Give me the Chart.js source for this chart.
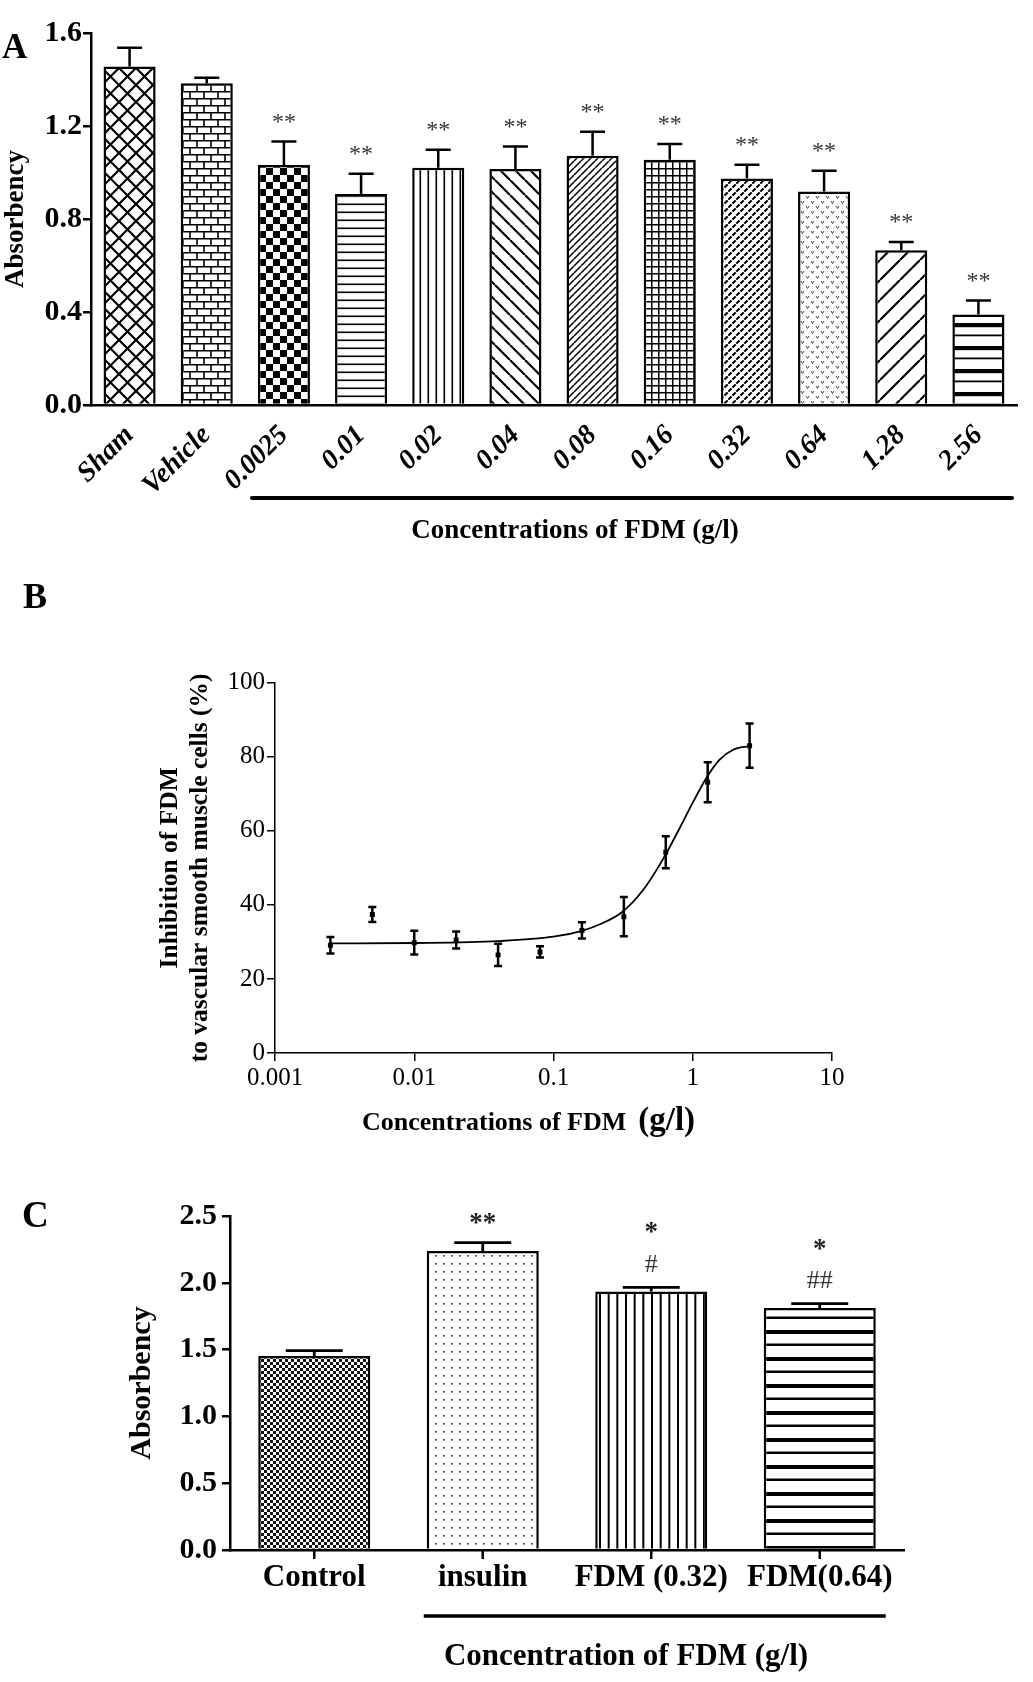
<!DOCTYPE html>
<html>
<head>
<meta charset="utf-8">
<script src="https://cdn.jsdelivr.net/npm/chart.js@4.4.1/dist/chart.umd.min.js"></script>
<style>
html, body { margin: 0; padding: 0; background: #fff; }
body { width: 1033px; height: 1682px; position: relative; overflow: hidden; }
.panel { position: absolute; left: 0; width: 1033px; }
#pa { top: 0; height: 560px; }
#pb { top: 560px; height: 580px; }
#pc { top: 1140px; height: 542px; }
</style>
</head>
<body>
<div class="panel" id="pa"><canvas id="ca"></canvas></div>
<div class="panel" id="pb"><canvas id="cb"></canvas></div>
<div class="panel" id="pc"><canvas id="cc"></canvas></div>
<script>
const SERIF = '"Liberation Serif", "Times New Roman", serif';

// A: absorbency per group
const aLabels = ['Sham', 'Vehicle', '0.0025', '0.01', '0.02', '0.04', '0.08', '0.16', '0.32', '0.64', '1.28', '2.56'];
const aMean = [1.456, 1.384, 1.032, 0.908, 1.020, 1.015, 1.072, 1.055, 0.974, 0.918, 0.666, 0.389];
const aErr = [0.081, 0.024, 0.101, 0.087, 0.078, 0.097, 0.103, 0.068, 0.059, 0.089, 0.035, 0.061];
const aMarks = ['', '', '**', '**', '**', '**', '**', '**', '**', '**', '**', '**'];

// B: inhibition vs dose (log x)
const bDose = [0.0025, 0.005, 0.01, 0.02, 0.04, 0.08, 0.16, 0.32, 0.64, 1.28, 2.56];
const bMean = [29.1, 37.4, 29.8, 30.5, 26.5, 27.3, 33.1, 36.8, 54.2, 73.1, 83.0];
const bErr = [2.2, 2.0, 3.2, 2.3, 3.0, 1.5, 2.2, 5.3, 4.3, 5.4, 6.0];
const bFitDose = [0.0025, 0.01, 0.04, 0.1, 0.16, 0.22, 0.31, 0.44, 0.61, 0.81, 1.0, 1.25, 1.56, 1.95, 2.56];
const bFitValue = [29.6, 29.7, 30.2, 31.4, 33.0, 34.9, 38.0, 44.0, 52.3, 60.9, 67.6, 74.2, 79.2, 81.9, 82.9];
const bTicks = [0.001, 0.01, 0.1, 1, 10];
const bTickLabels = ['0.001', '0.01', '0.1', '1', '10'];

// C: insulin-stimulated absorbency
const cLabels = ['Control', 'insulin', 'FDM (0.32)', 'FDM(0.64)'];
const cMean = [1.452, 2.238, 1.934, 1.811];
const cErr = [0.040, 0.062, 0.032, 0.033];
const cStars = ['', '**', '*', '*'];
const cHashes = ['', '', '#', '##'];

const font = (size, weight = 'normal', style = 'normal') => ({ family: SERIF, size, weight, style });

// hatch fills
const pat = (w, h, draw) => {
    const c = document.createElement('canvas');
    c.width = w; c.height = h;
    const g = c.getContext('2d');
    g.fillStyle = '#fff';
    g.fillRect(0, 0, w, h);
    g.fillStyle = g.strokeStyle = '#000';
    draw(g, w, h);
    return g.createPattern(c, 'repeat');
};
const diag = (g, s, dir) => {
    g.beginPath();
    for (const o of [-s, 0, s]) {
        if (dir > 0) { g.moveTo(o, s); g.lineTo(o + s, 0); }
        else { g.moveTo(o, 0); g.lineTo(o + s, s); }
    }
    g.stroke();
};
const vmark = (g, x, y) => { g.moveTo(x, y); g.lineTo(x + 1.5, y + 2.5); g.lineTo(x + 3, y); };

const aFills = [
    pat(17, 17, g => { g.lineWidth = 2.2; diag(g, 17, 1); diag(g, 17, -1); }),
    pat(14, 14, g => {
        g.lineWidth = 1.6; g.beginPath();
        g.moveTo(0, 0.8); g.lineTo(14, 0.8); g.moveTo(0, 7.8); g.lineTo(14, 7.8);
        g.moveTo(1, 0); g.lineTo(1, 7); g.moveTo(8, 7); g.lineTo(8, 14);
        g.stroke();
    }),
    pat(14, 14, g => { g.fillRect(0, 0, 7, 7); g.fillRect(7, 7, 7, 7); }),
    pat(8, 8, g => g.fillRect(0, 3.5, 8, 1.6)),
    pat(8, 8, g => g.fillRect(3.5, 0, 1.6, 8)),
    pat(15, 15, g => { g.lineWidth = 2.2; diag(g, 15, -1); }),
    pat(7, 7, g => { g.lineWidth = 1.5; diag(g, 7, 1); }),
    pat(7, 7, g => { g.fillRect(0, 0, 7, 1.5); g.fillRect(0, 0, 1.5, 7); }),
    pat(8, 8, g => { g.lineWidth = 2; diag(g, 8, 1); g.strokeStyle = '#fff'; g.lineWidth = 1.3; diag(g, 8, -1); }),
    pat(10, 10, g => { g.strokeStyle = '#444'; g.lineWidth = 1; g.beginPath(); vmark(g, 1, 1); vmark(g, 6, 6); g.stroke(); }),
    pat(20, 20, g => { g.lineWidth = 2.2; diag(g, 20, 1); }),
    pat(23, 23, g => { g.fillRect(0, 1, 23, 4.2); g.fillRect(0, 12.5, 23, 1.8); })
];
const cFills = [
    pat(6, 6, g => { g.fillStyle = '#111'; g.fillRect(0, 0, 3, 3); g.fillRect(3, 3, 3, 3); }),
    pat(8, 8, g => { g.fillStyle = '#333'; g.fillRect(3, 3, 1.6, 1.6); }),
    pat(26, 8, g => { [1, 9.67, 18.33].forEach(x => g.fillRect(x, 0, 2, 8)); }),
    pat(27, 27, g => { g.fillRect(0, 1, 27, 4); g.fillRect(0, 14.5, 27, 2.5); })
];

const errorBars = (mean, err, cap, width, both, dsIndex = 0) => ({
    id: 'errorBars',
    afterDatasetsDraw(chart) {
        const { ctx } = chart;
        const ys = chart.scales.y;
        ctx.save();
        ctx.strokeStyle = '#000';
        ctx.lineWidth = width;
        chart.getDatasetMeta(dsIndex).data.forEach((el, i) => {
            const x = el.x;
            const top = ys.getPixelForValue(mean[i] + err[i]);
            const bot = both ? ys.getPixelForValue(mean[i] - err[i]) : el.y;
            ctx.beginPath();
            ctx.moveTo(x, bot); ctx.lineTo(x, top);
            ctx.moveTo(x - cap / 2, top); ctx.lineTo(x + cap / 2, top);
            if (both) { ctx.moveTo(x - cap / 2, bot); ctx.lineTo(x + cap / 2, bot); }
            ctx.stroke();
        });
        ctx.restore();
    }
});

const text = (ctx, s, x, y, f, align = 'left', color = '#000', baseline = 'alphabetic') => {
    ctx.font = `${f.style} ${f.weight} ${f.size}px ${SERIF}`;
    ctx.fillStyle = color;
    ctx.textAlign = align;
    ctx.textBaseline = baseline;
    ctx.fillText(s, x, y);
};

const axisCommon = (lw) => ({
    grid: { drawOnChartArea: false, drawTicks: true, tickLength: 8, color: '#000', lineWidth: lw },
    border: { color: '#000', width: lw }
});

// ---- A ----
const aNotes = {
    id: 'aNotes',
    afterDraw(chart) {
        const { ctx, scales: { x, y }, chartArea } = chart;
        ctx.save();
        text(ctx, 'A', 2, 58, font(35, 'bold'));
        chart.getDatasetMeta(0).data.forEach((el, i) => {
            if (!aMarks[i]) return;
            text(ctx, aMarks[i], el.x, y.getPixelForValue(aMean[i] + aErr[i]) - 19, font(24), 'center', '#333', 'middle');
        });
        ctx.strokeStyle = '#000';
        ctx.lineWidth = 4;
        ctx.lineCap = 'round';
        ctx.beginPath();
        ctx.moveTo(x.getPixelForValue(2) - 32, 498);
        ctx.lineTo(chartArea.right - 5, 498);
        ctx.stroke();
        text(ctx, 'Concentrations of FDM (g/l)', 575, 538, font(27, 'bold'), 'center');
        ctx.restore();
    }
};

new Chart(document.getElementById('ca'), {
    type: 'bar',
    data: {
        labels: aLabels,
        datasets: [{
            data: aMean,
            backgroundColor: aFills,
            borderColor: '#000',
            borderWidth: 2.5,
            barPercentage: 0.675,
            categoryPercentage: 1
        }]
    },
    options: {
        responsive: true,
        maintainAspectRatio: false,
        animation: false,
        layout: { padding: { top: 33, right: 16, left: 0, bottom: 0 } },
        plugins: { legend: { display: false }, tooltip: { enabled: false } },
        scales: {
            x: {
                grid: { drawOnChartArea: false, drawTicks: false, color: '#000' },
                border: { color: '#000', width: 2.5 },
                ticks: { color: '#000', font: font(28, 'bold', 'italic'), minRotation: 45, maxRotation: 45, autoSkip: false, padding: 14 },
                afterFit: s => { s.height = 155; }
            },
            y: {
                min: 0, max: 1.6,
                ...axisCommon(2.5),
                ticks: { stepSize: 0.4, color: '#000', font: font(30, 'bold'), padding: 1, callback: v => v.toFixed(1) },
                title: { display: true, text: 'Absorbency', color: '#000', font: font(27, 'bold'), padding: { top: 0, bottom: 0 } },
                afterFit: s => { s.width = 91; }
            }
        }
    },
    plugins: [errorBars(aMean, aErr, 25, 2.5, false), aNotes]
});

// ---- B ----
const bNotes = {
    id: 'bNotes',
    afterDraw(chart) {
        const { ctx } = chart;
        ctx.save();
        text(ctx, 'B', 23, 48, font(36, 'bold'));
        const main = 'Concentrations of FDM';
        text(ctx, main, 362, 570, font(26, 'bold'));
        const w = ctx.measureText(main).width;
        text(ctx, '(g/l)', 362 + w + 12, 570, font(33, 'bold'));
        ctx.restore();
    }
};

new Chart(document.getElementById('cb'), {
    type: 'line',
    data: {
        datasets: [
            {
                data: bFitDose.map((x, i) => ({ x, y: bFitValue[i] })),
                borderColor: '#000',
                borderWidth: 1.8,
                pointRadius: 0,
                cubicInterpolationMode: 'monotone',
                fill: false
            },
            {
                data: bDose.map((x, i) => ({ x, y: bMean[i] })),
                showLine: false,
                pointStyle: 'rect',
                pointRadius: 3.5,
                backgroundColor: '#000',
                borderColor: '#000',
                borderWidth: 0
            }
        ]
    },
    options: {
        responsive: true,
        maintainAspectRatio: false,
        animation: false,
        layout: { padding: { top: 122.7, right: 201, left: 0, bottom: 0 } },
        plugins: { legend: { display: false }, tooltip: { enabled: false } },
        scales: {
            x: {
                type: 'logarithmic',
                min: 0.001, max: 10,
                ...axisCommon(1.5),
                afterBuildTicks: s => { s.ticks = bTicks.map(v => ({ value: v })); },
                ticks: { color: '#000', font: font(25), padding: 2, autoSkip: false, maxRotation: 0, callback: (v, i) => bTickLabels[i] },
                afterFit: s => { s.height = 87; }
            },
            y: {
                min: 0, max: 100,
                ...axisCommon(1.5),
                ticks: { stepSize: 20, color: '#000', font: font(25), padding: 2 },
                title: {
                    display: true,
                    text: ['Inhibition of FDM', 'to vascular smooth muscle cells (%)'],
                    color: '#000',
                    font: { ...font(25.5, 'bold'), lineHeight: 1.2 },
                    padding: { top: 155, bottom: 0 }
                },
                afterFit: s => { s.width = 275; }
            }
        }
    },
    plugins: [errorBars(bMean, bErr, 8, 2.5, true, 1), bNotes]
});

// ---- C ----
const cNotes = {
    id: 'cNotes',
    afterDraw(chart) {
        const { ctx, scales: { x, y } } = chart;
        ctx.save();
        text(ctx, 'C', 22, 87, font(37, 'bold'));
        ctx.strokeStyle = '#000';
        ctx.lineWidth = 2.5;
        ctx.beginPath();
        chart.getDatasetMeta(0).data.forEach((el, i) => {
            // tick mark under each category
            ctx.moveTo(el.x, y.bottom);
            ctx.lineTo(el.x, y.bottom + 9);
            const top = y.getPixelForValue(cMean[i] + cErr[i]);
            if (cHashes[i]) text(ctx, cHashes[i], el.x, top - 22, font(26), 'center', '#333', 'middle');
            if (cStars[i]) text(ctx, cStars[i], el.x, top - (cHashes[i] ? 54 : 19), font(27, 'bold'), 'center', '#222', 'middle');
        });
        ctx.stroke();
        ctx.lineWidth = 3.5;
        ctx.beginPath();
        ctx.moveTo(x.getPixelForValue(1) - 59, 476);
        ctx.lineTo(x.getPixelForValue(3) + 66, 476);
        ctx.stroke();
        text(ctx, 'Concentration of FDM (g/l)', 626, 525, font(31, 'bold'), 'center');
        ctx.restore();
    }
};

new Chart(document.getElementById('cc'), {
    type: 'bar',
    data: {
        labels: cLabels,
        datasets: [{
            data: cMean,
            backgroundColor: cFills,
            borderColor: '#000',
            borderWidth: 2.5,
            barPercentage: 0.665,
            categoryPercentage: 1
        }]
    },
    options: {
        responsive: true,
        maintainAspectRatio: false,
        animation: false,
        layout: { padding: { top: 76, right: 129, left: 0, bottom: 0 } },
        plugins: { legend: { display: false }, tooltip: { enabled: false } },
        scales: {
            x: {
                grid: { drawOnChartArea: false, drawTicks: false, color: '#000' },
                border: { color: '#000', width: 2.5 },
                ticks: { color: '#000', font: font(31, 'bold'), padding: 9, maxRotation: 0, autoSkip: false },
                afterFit: s => { s.height = 132; }
            },
            y: {
                min: 0, max: 2.5,
                ...axisCommon(2.5),
                ticks: { stepSize: 0.5, color: '#000', font: font(30, 'bold'), padding: 5, callback: v => v.toFixed(1) },
                title: { display: true, text: 'Absorbency', color: '#000', font: font(30, 'bold'), padding: { top: 124, bottom: 0 } },
                afterFit: s => { s.width = 230; }
            }
        }
    },
    plugins: [errorBars(cMean, cErr, 57, 2.8, false), cNotes]
});
</script>
</body>
</html>
